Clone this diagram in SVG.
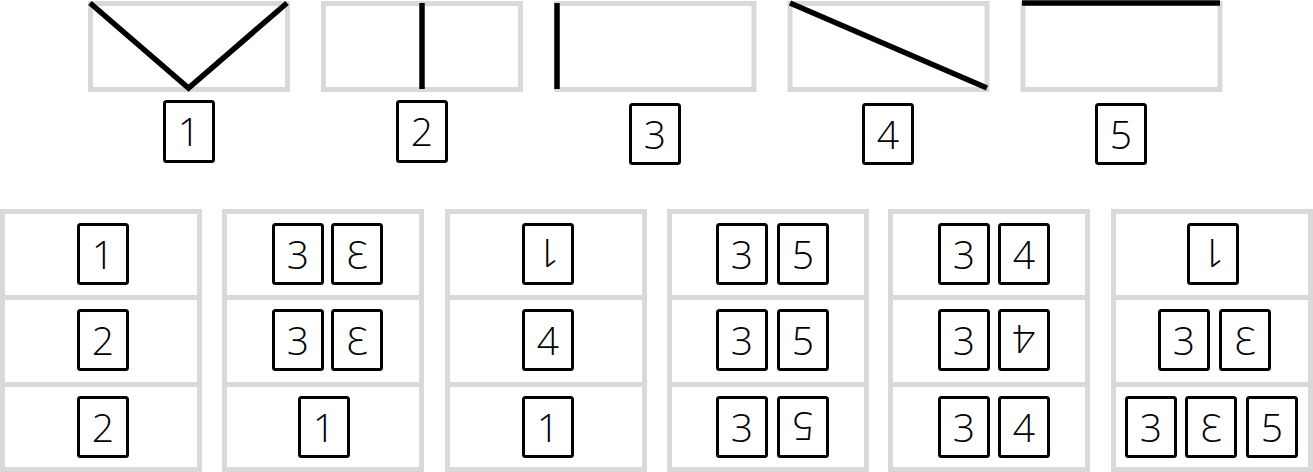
<svg xmlns="http://www.w3.org/2000/svg" width="1313" height="472" viewBox="0 0 1313 472">
<style>
.panel{fill:#fff;stroke:#d9d9d9;stroke-width:5}
.fold{fill:none;stroke:#000;stroke-width:5.5;stroke-linecap:butt;stroke-linejoin:miter}
.card{fill:#fff;stroke:#000;stroke-width:3}
.num{font-family:"Open Sans","Noto Sans","DejaVu Sans",sans-serif;font-weight:300;font-size:39px;text-anchor:middle;fill:#000}
</style>
<rect width="1313" height="472" fill="#fff"/>
<!-- top strips -->
<g id="strip1">
<rect class="panel" x="90.5" y="3.5" width="197" height="86"/>
<polyline class="fold" points="90,3 188.5,88 287,3"/>
</g>
<g id="strip2">
<rect class="panel" x="323.5" y="3.5" width="197" height="86"/>
<line class="fold" x1="422" y1="3" x2="422" y2="89"/>
</g>
<g id="strip3">
<rect class="panel" x="557" y="3.5" width="197" height="86"/>
<line class="fold" x1="557" y1="3" x2="557" y2="89"/>
</g>
<g id="strip4">
<rect class="panel" x="790" y="3.5" width="197" height="86"/>
<line class="fold" x1="790" y1="3" x2="987" y2="88"/>
</g>
<g id="strip5">
<rect class="panel" x="1023" y="3.5" width="197" height="86"/>
<line class="fold" x1="1022" y1="3" x2="1220" y2="3" stroke-width="6"/>
</g>
<!-- top labels -->
<g id="label1"><rect class="card" x="164.5" y="101.5" width="49" height="60" rx="2"/><text class="num" x="189" y="146">1</text></g>
<g id="label2"><rect class="card" x="397.5" y="101.5" width="49" height="60" rx="2"/><text class="num" x="422" y="146">2</text></g>
<g id="label3"><rect class="card" x="630.5" y="104.5" width="49" height="59" rx="2"/><text class="num" x="655" y="149">3</text></g>
<g id="label4"><rect class="card" x="863.5" y="104.5" width="49" height="59" rx="2"/><text class="num" x="888" y="149">4</text></g>
<g id="label5"><rect class="card" x="1096.5" y="104.5" width="49" height="59" rx="2"/><text class="num" x="1121" y="149">5</text></g>
<!-- bottom panels -->
<g id="col1">
<rect class="panel" x="2.5" y="211.5" width="197" height="86"/><rect class="panel" x="2.5" y="297.5" width="197" height="87"/><rect class="panel" x="2.5" y="384.5" width="197" height="85"/>
<rect class="card" x="78.5" y="224.5" width="49" height="59" rx="2"/><text class="num" x="103" y="269">1</text>
<rect class="card" x="78.5" y="310.5" width="49" height="59" rx="2"/><text class="num" x="103" y="355">2</text>
<rect class="card" x="78.5" y="397.5" width="49" height="59" rx="2"/><text class="num" x="103" y="442">2</text>
</g>
<g id="col2">
<rect class="panel" x="224.5" y="211.5" width="197" height="86"/><rect class="panel" x="224.5" y="297.5" width="197" height="87"/><rect class="panel" x="224.5" y="384.5" width="197" height="85"/>
<rect class="card" x="273.5" y="224.5" width="49" height="59" rx="2"/><text class="num" x="298" y="269">3</text>
<rect class="card" x="332.5" y="224.5" width="49" height="59" rx="2"/><text class="num" x="357" y="269" transform="matrix(-1 0 0 1 714 0)">3</text>
<rect class="card" x="273.5" y="310.5" width="49" height="59" rx="2"/><text class="num" x="298" y="355">3</text>
<rect class="card" x="332.5" y="310.5" width="49" height="59" rx="2"/><text class="num" x="357" y="355" transform="matrix(-1 0 0 1 714 0)">3</text>
<rect class="card" x="299.5" y="397.5" width="49" height="59" rx="2"/><text class="num" x="324" y="442">1</text>
</g>
<g id="col3">
<rect class="panel" x="447.5" y="211.5" width="197" height="86"/><rect class="panel" x="447.5" y="297.5" width="197" height="87"/><rect class="panel" x="447.5" y="384.5" width="197" height="85"/>
<rect class="card" x="523.5" y="224.5" width="49" height="59" rx="2"/><text class="num" x="548" y="269" transform="rotate(180 548 254)">1</text>
<rect class="card" x="523.5" y="310.5" width="49" height="59" rx="2"/><text class="num" x="548" y="355">4</text>
<rect class="card" x="523.5" y="397.5" width="49" height="59" rx="2"/><text class="num" x="548" y="442">1</text>
</g>
<g id="col4">
<rect class="panel" x="669.5" y="211.5" width="197" height="86"/><rect class="panel" x="669.5" y="297.5" width="197" height="87"/><rect class="panel" x="669.5" y="384.5" width="197" height="85"/>
<rect class="card" x="717.5" y="224.5" width="49" height="59" rx="2"/><text class="num" x="742" y="269">3</text>
<rect class="card" x="778.5" y="224.5" width="49" height="59" rx="2"/><text class="num" x="803" y="269">5</text>
<rect class="card" x="717.5" y="310.5" width="49" height="59" rx="2"/><text class="num" x="742" y="355">3</text>
<rect class="card" x="778.5" y="310.5" width="49" height="59" rx="2"/><text class="num" x="803" y="355">5</text>
<rect class="card" x="717.5" y="397.5" width="49" height="59" rx="2"/><text class="num" x="742" y="442">3</text>
<rect class="card" x="778.5" y="397.5" width="49" height="59" rx="2"/><text class="num" x="803" y="442" transform="rotate(180 803 427)">5</text>
</g>
<g id="col5">
<rect class="panel" x="890.5" y="211.5" width="197" height="86"/><rect class="panel" x="890.5" y="297.5" width="197" height="87"/><rect class="panel" x="890.5" y="384.5" width="197" height="85"/>
<rect class="card" x="939.5" y="224.5" width="49" height="59" rx="2"/><text class="num" x="964" y="269">3</text>
<rect class="card" x="999.5" y="224.5" width="49" height="59" rx="2"/><text class="num" x="1024" y="269">4</text>
<rect class="card" x="939.5" y="310.5" width="49" height="59" rx="2"/><text class="num" x="964" y="355">3</text>
<rect class="card" x="999.5" y="310.5" width="49" height="59" rx="2"/><text class="num" x="1024" y="355" transform="rotate(180 1024 340)">4</text>
<rect class="card" x="939.5" y="397.5" width="49" height="59" rx="2"/><text class="num" x="964" y="442">3</text>
<rect class="card" x="999.5" y="397.5" width="49" height="59" rx="2"/><text class="num" x="1024" y="442">4</text>
</g>
<g id="col6">
<rect class="panel" x="1113.5" y="211.5" width="197" height="86"/><rect class="panel" x="1113.5" y="297.5" width="197" height="87"/><rect class="panel" x="1113.5" y="384.5" width="197" height="85"/>
<rect class="card" x="1188.5" y="224.5" width="49" height="59" rx="2"/><text class="num" x="1213" y="269" transform="rotate(180 1213 254)">1</text>
<rect class="card" x="1159.5" y="310.5" width="49" height="59" rx="2"/><text class="num" x="1184" y="355">3</text>
<rect class="card" x="1220.5" y="310.5" width="49" height="59" rx="2"/><text class="num" x="1245" y="355" transform="matrix(-1 0 0 1 2490 0)">3</text>
<rect class="card" x="1126.5" y="397.5" width="49" height="59" rx="2"/><text class="num" x="1151" y="442">3</text>
<rect class="card" x="1186.5" y="397.5" width="49" height="59" rx="2"/><text class="num" x="1211" y="442" transform="matrix(-1 0 0 1 2422 0)">3</text>
<rect class="card" x="1247.5" y="397.5" width="49" height="59" rx="2"/><text class="num" x="1272" y="442">5</text>
</g>
</svg>
